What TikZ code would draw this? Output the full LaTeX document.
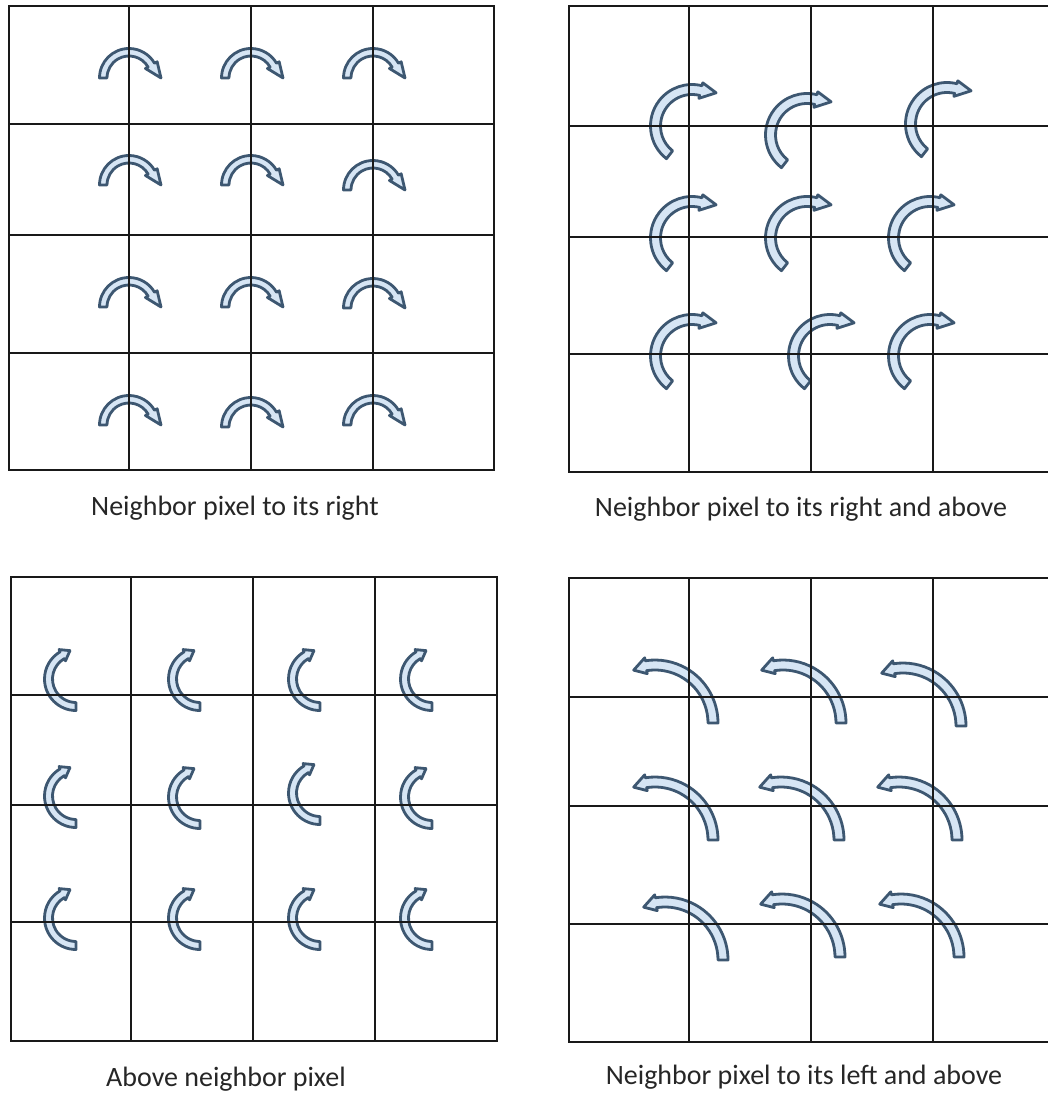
\documentclass[tikz,border=0pt]{standalone}
\usepackage{fontspec}
\setmainfont{Carlito}

\definecolor{arrowline}{HTML}{3D5771}
\definecolor{arrowfill}{HTML}{D6E5F4}

% curved block arrow: centre, outer r, inner r, tail angle, head angle, tip (angle:radius), barb
\newcommand{\curvarrow}[7]{%
  \draw[blockarrow, shift={(#1)}]
    (#4:#2) arc[start angle=#4, end angle=#5, radius=#2]
    -- (#5:{#2+#7}) -- (#6) -- (#5:{#3-#7}) -- (#5:#3)
    arc[start angle=#5, end angle=#4, radius=#3] -- cycle;}

\begin{document}
\begin{tikzpicture}[
  x=1pt, y=1pt,
  gridline/.style={line width=1.6pt, black!90},
  blockarrow/.style={draw=arrowline, fill=arrowfill, line width=2.8pt, line join=round},
  caption/.style={anchor=base, font=\fontsize{28}{32}\selectfont, text=black!85, inner sep=0pt}
]
\useasboundingbox (0,0) rectangle (1048,-1094);

% right neighbour
\foreach \cx/\cy in {129/78, 251/78, 373/78, 129/185, 251/185, 373/190,
                     129/307, 251/307, 373/308, 129/425, 251/427, 373/425}
  \curvarrow{\cx,-\cy}{29.5}{22}{180}{30}{0:32}{3};

% right and above
\foreach \cx/\cy in {692/126, 807/135, 947/124, 692/238, 807/238, 930/238,
                     692/356, 830/356, 930/356}
  \curvarrow{\cx,-\cy}{41.5}{31.5}{232}{76}{54:41}{3};

% above
\foreach \cx/\cy in {76/679, 200/679, 320/679, 432/679, 76/796, 200/797,
                     320/793, 432/797, 76/918, 200/918, 320/918, 432/918}
  \curvarrow{\cx,-\cy}{31.5}{23.5}{270}{120}{102:29}{2.5};

% left and above
\foreach \cx/\cy in {655/723, 783/723, 903/726, 655/840, 781/840, 899/840,
                     665/960, 782/957, 901/957}
  \curvarrow{\cx,-\cy}{63}{53}{0}{99}{112:57}{3};

% grids
\draw[gridline] (9,-6) rectangle (494,-470);
\foreach \x in {129,251,373} \draw[gridline] (\x,-6) -- (\x,-470);
\foreach \y in {124,235,353} \draw[gridline] (9,-\y) -- (494,-\y);

\draw[gridline] (1048,-6) -- (569,-6) -- (569,-472) -- (1048,-472);
\foreach \x in {689,811,933} \draw[gridline] (\x,-6) -- (\x,-472);
\foreach \y in {126,237,354} \draw[gridline] (569,-\y) -- (1048,-\y);

\draw[gridline] (11,-577) rectangle (497,-1041);
\foreach \x in {131,253,375} \draw[gridline] (\x,-577) -- (\x,-1041);
\foreach \y in {695,805,922} \draw[gridline] (11,-\y) -- (497,-\y);

\draw[gridline] (1048,-578) -- (569,-578) -- (569,-1042) -- (1048,-1042);
\foreach \x in {689,811,933} \draw[gridline] (\x,-578) -- (\x,-1042);
\foreach \y in {697,806,924} \draw[gridline] (569,-\y) -- (1048,-\y);

% captions
\node[caption] (capright) at (235,-515) {Neighbor pixel to its right};
\node[caption] (capupright) at (801,-516) {Neighbor pixel to its right and above};
\node[caption] (capabove) at (226,-1086) {Above neighbor pixel};
\node[caption] (capupleft) at (804,-1084) {Neighbor pixel to its left and above};
\end{tikzpicture}
\end{document}
